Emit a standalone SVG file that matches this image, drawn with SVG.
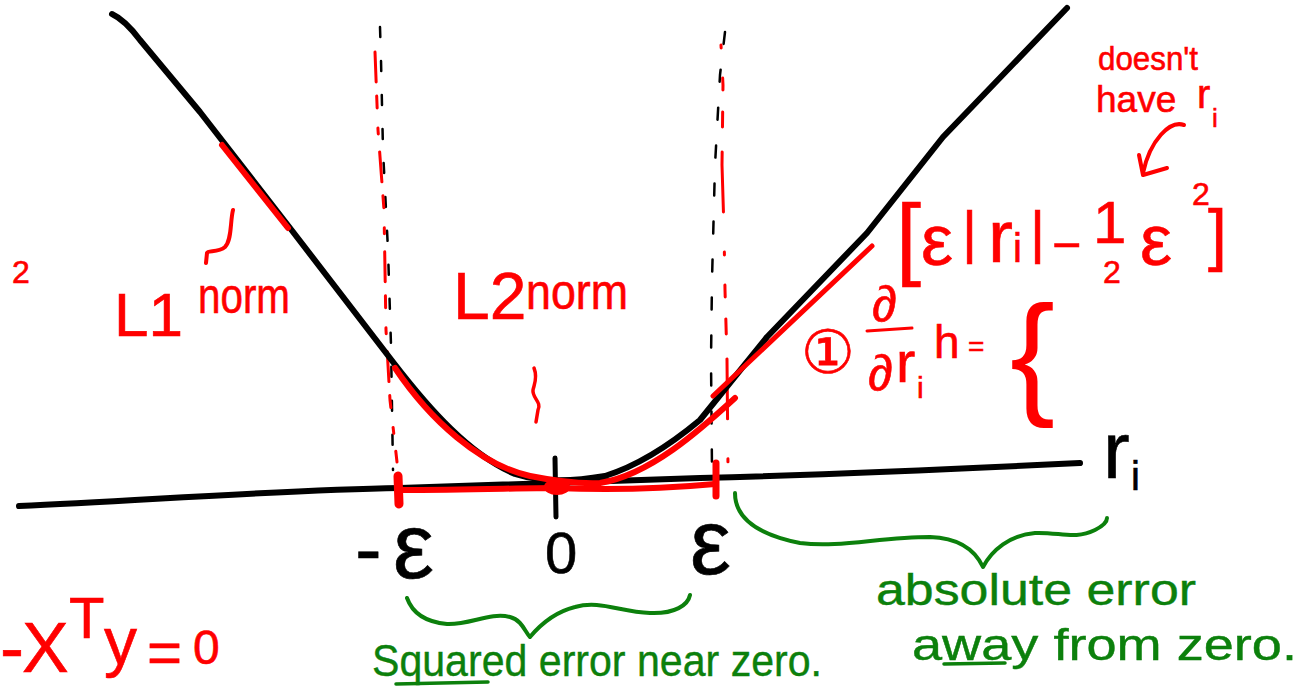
<svg xmlns="http://www.w3.org/2000/svg" width="1311" height="690" viewBox="0 0 1311 690">
<style>
.ink{fill:none;stroke-linecap:round;stroke-linejoin:round}
.k{stroke:#000}
.rd{stroke:#ff0000}
.g{stroke:#0c800c}
.tk{fill:#000;font-family:"Liberation Sans","DejaVu Sans",sans-serif;stroke:#000;stroke-width:0.6}
.tr{fill:#ff0000;font-family:"Liberation Sans","DejaVu Sans","Noto Sans CJK SC",sans-serif;stroke:#ff0000;stroke-width:0.6}
.tg{fill:#0c800c;font-family:"Liberation Sans","DejaVu Sans",sans-serif;stroke:#0c800c;stroke-width:0.4}
</style>
<rect width="1311" height="690" fill="#fff"/>

<g id="guides">
<path class="ink k" stroke-width="2.5" stroke-dasharray="10 24" d="M380,27 L381,60 L383,150 L388,250 L391,345 L393,470"/>
<path class="ink rd" stroke-width="3" stroke-dasharray="30 14 12 20 6 18" d="M375,52 L378,130 L384,210 L386,330 L390,400 L397,462"/>
<path class="ink k" stroke-width="2.5" stroke-dasharray="12 26" d="M725,32 L720,75 L715,165 L712,280 L711,360 L712,470"/>
<path class="ink rd" stroke-width="3" stroke-dasharray="3 30 12 22 15 25 60 40" d="M721,45 L723,85 L722,165 L724,230 L725,290 L727,360 L728,467"/>
</g>

<g id="axis">
<path class="ink k" stroke-width="6" d="M19,506 C150,500 280,490 400,488 L700,478 C850,474 980,468 1080,463"/>
<path class="ink k" stroke-width="5" d="M555,458 L556,517"/>
</g>

<g id="huber-curve">
<path class="ink k" stroke-width="6" d="M112,14 Q125,20 140,40 L200,112 L290,228 L393,362 C430,410 470,455 515,474 C540,482 570,482 605,476 C640,465 670,445 700,420 L767,337 L867,233 L943,137 L1067,8"/>
</g>

<g id="red-marks">
<path class="ink rd" stroke-width="6" d="M395,368 C430,420 480,465 530,476 C550,480 575,484 600,483 C650,475 700,430 735,398"/>
<path class="ink rd" stroke-width="6" d="M400,490 C470,490 520,488 555,488 C600,490 650,490 715,484"/>
<path class="ink rd" stroke-width="9" d="M398,476 L399,504"/>
<path class="ink rd" stroke-width="7" d="M716,463 L716,496"/>
<ellipse cx="557" cy="487" rx="13" ry="8" fill="#ff0000"/>
<path class="ink rd" stroke-width="6" d="M222,145 L288,228"/>
<path class="ink rd" stroke-width="5" d="M713,396 L872,246"/>
<path class="ink rd" stroke-width="4" d="M233,210 C230,222 232,240 225,247 C218,253 208,250 207,253 L206,263"/>
<path class="ink rd" stroke-width="3.5" d="M534,368 C538,378 534,385 533,390 C532,398 542,402 538,410 L536,422"/>
<path class="ink rd" stroke-width="4" d="M1184,125 C1170,120 1150,140 1143,173"/>
<path class="ink rd" stroke-width="4" d="M1139,155 L1143,175 L1167,168"/>
<path class="ink rd" stroke-width="3" d="M867,331 L912,328"/>
</g>

<g id="red-labels">
<text class="tr" x="12" y="283" font-size="32">2</text>
<text class="tr"><tspan x="114" y="336" font-size="62">L1</tspan><tspan x="198" y="313" font-size="50" textLength="92" lengthAdjust="spacingAndGlyphs">norm</tspan></text>
<text class="tr"><tspan x="453" y="319" font-size="66">L2</tspan><tspan x="526" y="309" font-size="50" textLength="102" lengthAdjust="spacingAndGlyphs">norm</tspan></text>
<text class="tr" font-size="34" x="1098" y="70" textLength="100" lengthAdjust="spacingAndGlyphs">doesn't</text>
<text class="tr" font-size="37" x="1096" y="112">have</text>
<text class="tr" font-size="40" x="1197" y="108">r</text>
<text class="tr" font-size="26" x="1212" y="127">i</text>
<text class="tr"><tspan x="896" y="268" font-size="90">[</tspan><tspan x="921" y="265" font-size="72">ε</tspan><tspan x="962" y="252" font-size="58">|</tspan><tspan x="988" y="262" font-size="75">r</tspan><tspan x="1013" y="262" font-size="40">i</tspan><tspan x="1030" y="252" font-size="58">|</tspan><tspan x="1052" y="262" font-size="50">−</tspan><tspan x="1093" y="243" font-size="60">1</tspan><tspan x="1103" y="283" font-size="32">2</tspan><tspan x="1140" y="265" font-size="72">ε</tspan><tspan x="1192" y="205" font-size="32">2</tspan><tspan x="1208" y="258" font-size="68">]</tspan></text>
<text class="tr"><tspan x="801" y="373" font-size="60">①</tspan><tspan x="872" y="321" font-size="50">∂</tspan><tspan x="868" y="390" font-size="50">∂</tspan><tspan x="896" y="382" font-size="58">r</tspan><tspan x="917" y="398" font-size="30">i</tspan><tspan x="934" y="358" font-size="46">h</tspan><tspan x="968" y="356" font-size="28">=</tspan><tspan x="1010" y="400" font-size="135" stroke-width="0">{</tspan></text>
<text class="tr"><tspan x="0" y="672" font-size="72">-</tspan><tspan x="22" y="672" font-size="70">X</tspan><tspan x="69" y="638" font-size="58">T</tspan><tspan x="104" y="664" font-size="66">y</tspan><tspan x="147" y="673" font-size="60">=</tspan><tspan x="193" y="664" font-size="48">0</tspan></text>
</g>

<g id="axis-labels">
<text class="tk" x="355" y="576" font-size="80">-</text>
<text class="tk" x="393" y="578" font-size="92" stroke-width="0">ε</text>
<text class="tk" x="545" y="573" font-size="58">0</text>
<text class="tk" x="690" y="574" font-size="92" stroke-width="0">ε</text>
<text class="tk" x="1103" y="478" font-size="80">r</text>
<text class="tk" x="1131" y="490" font-size="40">i</text>
</g>

<g id="squared-error">
<path class="ink g" stroke-width="4" d="M407,598 C412,612 425,622 447,624 C470,625 490,612 510,617 C522,620 525,632 530,637 C540,625 555,612 575,607 C600,600 620,612 650,613 C675,614 688,605 690,595"/>
<text class="tg" x="372" y="676" font-size="44" textLength="450" lengthAdjust="spacingAndGlyphs">Squared error near zero.</text>
<path class="ink g" stroke-width="3.5" d="M396,684 L488,682"/>
</g>

<g id="absolute-error">
<path class="ink g" stroke-width="4" d="M735,493 C735,520 760,535 800,543 C840,548 880,537 930,537 C960,538 975,550 983,567 C992,550 1010,535 1035,533 C1060,532 1075,540 1095,530 C1103,526 1107,522 1107,518"/>
<text class="tg" x="876" y="605" font-size="44" textLength="320" lengthAdjust="spacingAndGlyphs">absolute error</text>
<text class="tg" x="912" y="660" font-size="44" textLength="385" lengthAdjust="spacingAndGlyphs">away from zero.</text>
<path class="ink g" stroke-width="3.5" d="M944,664 L1005,663"/>
</g>
</svg>
